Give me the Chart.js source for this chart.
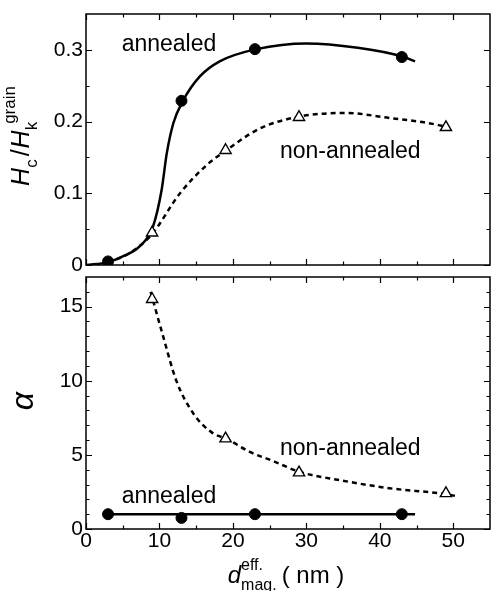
<!DOCTYPE html>
<html>
<head>
<meta charset="utf-8">
<script src="https://cdn.jsdelivr.net/npm/chart.js@4.4.1/dist/chart.umd.min.js"></script>
<style>
  body { margin: 0; background: #fff; }
  canvas { display: block; }
</style>
</head>
<body>
<canvas id="top" width="491" height="272"></canvas>
<canvas id="bottom" width="491" height="319"></canvas>
<script>
// measured points (d_mag eff in nm)
const annealedD = [3, 13, 23, 43];
const annealedHc = [0.005, 0.229, 0.301, 0.29];
const annealedAlpha = [1.0, 0.75, 1.0, 1.0];
const nonAnnealedD = [9, 19, 29, 49];
const nonAnnealedHc = [0.045, 0.16, 0.206, 0.192];
const nonAnnealedAlpha = [15.5, 6.1, 3.8, 2.4];

// guide-to-the-eye curves
const annealedFitD = [0, 3, 5, 7.3, 9.1, 10.3, 11, 11.9, 13.2, 15.5, 18.2, 23.2, 30, 37, 43, 44.8];
const annealedFitHc = [0, 0.004, 0.012, 0.026, 0.053, 0.105, 0.156, 0.198, 0.229, 0.263, 0.284, 0.301, 0.309, 0.303, 0.291, 0.284];
const nonAnnealedFitD = [3, 6, 8.9, 12.8, 16.4, 19.1, 23.6, 29.1, 35.4, 41.3, 46, 49];
const nonAnnealedFitHc = [0.003, 0.017, 0.042, 0.1, 0.139, 0.16, 0.19, 0.207, 0.212, 0.205, 0.199, 0.193];
const annealedLineD = [3, 44.8];
const annealedLineAlpha = [1.0, 1.0];
const nonAnnealedCurveD = [8.8, 10.5, 12.3, 14.6, 17.3, 19.1, 22.3, 25.4, 29.1, 34.5, 41.3, 49, 50.6];
const nonAnnealedCurveAlpha = [16.0, 13.0, 10.0, 7.8, 6.45, 6.1, 5.2, 4.6, 3.85, 3.3, 2.75, 2.35, 2.2];

// ticks
const xTicks = [0, 10, 20, 30, 40, 50];
const xMinorTicks = [5, 15, 25, 35, 45];
const hcTicks = [0, 0.1, 0.2, 0.3];
const hcMinorTicks = [0.05, 0.15, 0.25];
const alphaTicks = [0, 5, 10, 15];
const alphaMinorTicks = [1, 2, 3, 4, 6, 7, 8, 9, 11, 12, 13, 14, 16];

const FONT = '"Liberation Sans", Arial, sans-serif';

function pts(xs, ys) {
    return xs.map((x, i) => ({ x: x, y: ys[i] }));
}

// draw a row of text pieces with sub/superscripts, returns the width
function drawRuns(ctx, runs, x, y) {
    let cx = x;
    let lastBaseX = x;
    runs.forEach(r => {
        ctx.font = (r.italic ? 'italic ' : '') + r.size + 'px ' + FONT;
        let dy = 0;
        let startX = cx + (r.before || 0);
        if (r.pos === 'sub') dy = r.size * 0.45;
        if (r.pos === 'sup') { dy = -r.size * 0.8; if (r.stack) startX = lastBaseX; }
        ctx.fillText(r.t, startX, y + dy);
        const w = ctx.measureText(r.t).width;
        if (r.pos !== 'sup') lastBaseX = startX;
        cx = Math.max(cx, startX + w + (r.gap || 0));
    });
    return cx - x;
}

function runsWidth(ctx, runs) {
    ctx.save();
    ctx.globalAlpha = 0;
    const w = drawRuns(ctx, runs, 0, 0);
    ctx.restore();
    return w;
}

const framePlugin = {
    id: 'frame',
    afterDraw(chart, args, opts) {
        const ctx = chart.ctx;
        const a = chart.chartArea;
        const xs = chart.scales.x, ys = chart.scales.y;
        ctx.save();
        ctx.strokeStyle = '#000';
        ctx.lineWidth = 1.5;
        ctx.strokeRect(a.left, a.top, a.right - a.left, a.bottom - a.top);
        ctx.lineWidth = 1.2;
        ctx.beginPath();
        const tickX = (vals, len) => vals.forEach(v => {
            const px = Math.round(xs.getPixelForValue(v)) + 0.5;
            ctx.moveTo(px, a.bottom); ctx.lineTo(px, a.bottom - len);
            ctx.moveTo(px, a.top); ctx.lineTo(px, a.top + len);
        });
        const tickY = (vals, len) => vals.forEach(v => {
            const py = Math.round(ys.getPixelForValue(v)) + 0.5;
            ctx.moveTo(a.left, py); ctx.lineTo(a.left + len, py);
            ctx.moveTo(a.right, py); ctx.lineTo(a.right - len, py);
        });
        tickX(xTicks, 6); tickX(xMinorTicks, 3.5);
        tickY(opts.yMajor, 6); tickY(opts.yMinor, 3.5);
        ctx.stroke();

        // annotations
        ctx.fillStyle = '#000';
        ctx.textBaseline = 'alphabetic';
        ctx.textAlign = 'left';
        ctx.font = '23px ' + FONT;
        opts.labels.forEach(l => {
            ctx.fillText(l.text, xs.getPixelForValue(l.x), ys.getPixelForValue(l.y));
        });

        // y title (rotated)
        const w = runsWidth(ctx, opts.yTitle);
        ctx.translate(opts.yTitlePos[0], opts.yTitlePos[1]);
        ctx.rotate(-Math.PI / 2);
        drawRuns(ctx, opts.yTitle, -w / 2, 0);
        ctx.restore();

        if (opts.xTitle) {
            ctx.save();
            ctx.fillStyle = '#000';
            ctx.textBaseline = 'alphabetic';
            const xw = runsWidth(ctx, opts.xTitle);
            drawRuns(ctx, opts.xTitle, opts.xTitlePos[0] - xw / 2, opts.xTitlePos[1]);
            ctx.restore();
        }
    }
};

// drop the label overflow padding so the plot box sits where the layout padding says
function noPad(s) {
    s.paddingTop = 0; s.paddingBottom = 0; s.paddingLeft = 0; s.paddingRight = 0;
}

function makeChart(id, cfg) {
    const yTickList = cfg.yMajor;
    return new Chart(document.getElementById(id), {
        type: 'scatter',
        data: { datasets: cfg.datasets },
        options: {
            responsive: false,
            animation: false,
            devicePixelRatio: 1,
            layout: { padding: cfg.padding, autoPadding: false },
            plugins: {
                legend: { display: false },
                tooltip: { enabled: false },
                frame: {
                    yMajor: cfg.yMajor, yMinor: cfg.yMinor, labels: cfg.labels,
                    yTitle: cfg.yTitle, yTitlePos: cfg.yTitlePos,
                    xTitle: cfg.xTitle, xTitlePos: cfg.xTitlePos
                }
            },
            scales: {
                x: {
                    type: 'linear', min: 0, max: 55,
                    display: cfg.showX,
                    grid: { display: false, drawTicks: false },
                    border: { display: false },
                    afterBuildTicks: s => { s.ticks = xTicks.map(v => ({ value: v })); },
                    afterFit: s => { s.height = cfg.xHeight || 0; noPad(s); },
                    ticks: { color: '#000', font: { family: FONT, size: 21 }, padding: 0, maxRotation: 0 }
                },
                y: {
                    type: 'linear', min: cfg.yMin, max: cfg.yMax,
                    grid: { display: false, drawTicks: false },
                    border: { display: false },
                    afterBuildTicks: s => { s.ticks = yTickList.map(v => ({ value: v })); },
                    afterFit: s => { s.width = 86; noPad(s); },
                    ticks: { color: '#000', font: { family: FONT, size: 21 }, padding: 3, callback: v => String(v) }
                }
            }
        },
        plugins: [framePlugin]
    });
}

const solid = { borderColor: '#000', borderWidth: 2.5, showLine: true, pointRadius: 0, cubicInterpolationMode: 'monotone', order: 3 };
const dashed = Object.assign({}, solid, { borderDash: [5, 4] });
const dots = { pointStyle: 'circle', pointRadius: 5.5, backgroundColor: '#000', borderColor: '#000', borderWidth: 1, showLine: false, order: 1 };
const tris = { pointStyle: 'triangle', pointRadius: 6.5, backgroundColor: '#fff', borderColor: '#000', borderWidth: 1.4, showLine: false, order: 1 };

makeChart('top', {
    padding: { left: 0, right: 1, top: 14, bottom: 7 },
    showX: false,
    yMin: 0, yMax: 0.35, yMajor: hcTicks, yMinor: hcMinorTicks,
    datasets: [
        Object.assign({ data: pts(annealedD, annealedHc) }, dots),
        Object.assign({ data: pts(nonAnnealedD, nonAnnealedHc) }, tris),
        Object.assign({ data: pts(annealedFitD, annealedFitHc) }, solid),
        Object.assign({ data: pts(nonAnnealedFitD, nonAnnealedFitHc) }, dashed)
    ],
    labels: [
        { text: 'annealed', x: 4.85, y: 0.299 },
        { text: 'non-annealed', x: 26.4, y: 0.149 }
    ],
    yTitle: [
        { t: 'H', italic: true, size: 25 },
        { t: 'c', size: 17, pos: 'sub', gap: 3 },
        { t: '/', size: 25, gap: 1 },
        { t: 'H', italic: true, size: 25 },
        { t: 'k', size: 17, pos: 'sub' },
        { t: 'grain', size: 17, pos: 'sup', before: -2 }
    ],
    yTitlePos: [29, 136]
});

makeChart('bottom', {
    padding: { left: 0, right: 1, top: 5, bottom: 0 },
    showX: true, xHeight: 62,
    yMin: 0, yMax: 17, yMajor: alphaTicks, yMinor: alphaMinorTicks,
    datasets: [
        Object.assign({ data: pts(annealedD, annealedAlpha) }, dots),
        Object.assign({ data: pts(nonAnnealedD, nonAnnealedAlpha) }, tris),
        Object.assign({ data: pts(annealedLineD, annealedLineAlpha) }, solid),
        Object.assign({ data: pts(nonAnnealedCurveD, nonAnnealedCurveAlpha) }, dashed)
    ],
    labels: [
        { text: 'non-annealed', x: 26.4, y: 4.98 },
        { text: 'annealed', x: 4.85, y: 1.76 }
    ],
    yTitle: [{ t: '\u03B1', italic: true, size: 32 }],
    yTitlePos: [33, 129],
    xTitle: [
        { t: 'd', italic: true, size: 24 },
        { t: 'mag.', size: 16, pos: 'sub', gap: 5 },
        { t: 'eff.', size: 16, pos: 'sup', stack: true },
        { t: '( nm )', size: 24 }
    ],
    xTitlePos: [286, 311]
});
</script>
</body>
</html>
